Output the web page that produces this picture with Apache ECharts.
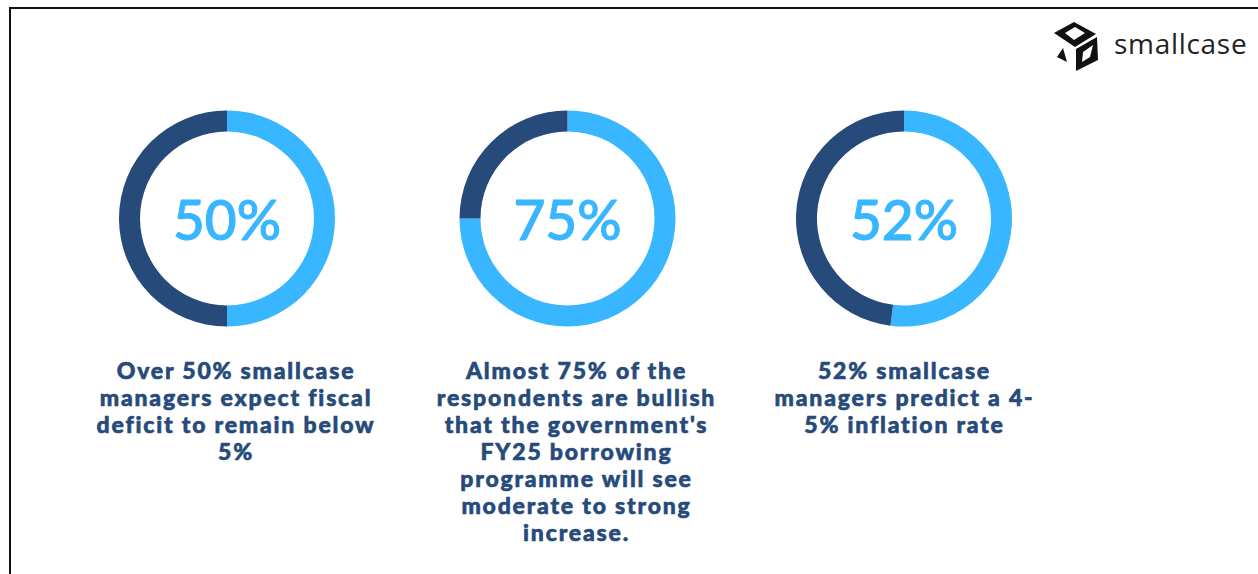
<!DOCTYPE html>
<html>
<head>
<meta charset="utf-8">
<script src="https://cdn.jsdelivr.net/npm/echarts@6/dist/echarts.min.js"></script>
<style>
html,body{margin:0;padding:0;background:#fff;overflow:hidden}
#chart{width:1258px;height:574px}
/* Tracking for the bold captions and the wordmark */
#chart svg text[style*="900"]{letter-spacing:1.8px}
#chart svg text[style*="Open Sans"]{letter-spacing:0.7px}
</style>
</head>
<body>
<div id="chart"></div>
<script>
// Survey shares shown as one ring per question
const shares = [50, 75, 52];
const shareLabels = ['50%', '75%', '52%'];
const ringCentres = [[227, 218.5], [567.5, 218.5], [904, 218.5]];
const captions = [
  'Over 50% smallcase\nmanagers expect fiscal\ndeficit to remain below\n5%',
  "Almost 75% of the\nrespondents are bullish\nthat the government's\nFY25 borrowing\nprogramme will see\nmoderate to strong\nincrease.",
  '52% smallcase\nmanagers predict a 4-\n5% inflation rate'
];
const captionCentres = [236, 576.5, 904.5];
const accent = '#38b6ff';
const navy = '#264a7a';

const chart = echarts.init(document.getElementById('chart'), null, {renderer: 'svg'});

const rings = shares.map((v, i) => ({
  type: 'pie',
  silent: true,
  center: ringCentres[i],
  radius: [87, 108],
  startAngle: 90,
  clockwise: true,
  animation: false,
  avoidLabelOverlap: false,
  labelLine: {show: false},
  label: {show: false},
  data: [
    {
      value: v,
      itemStyle: {color: accent},
      label: {
        show: true,
        position: 'center',
        formatter: shareLabels[i],
        fontFamily: 'Lato',
        fontSize: 55,
        fontWeight: 500,
        color: accent,
        textBorderColor: accent,
        textBorderWidth: 1
      }
    },
    {value: 100 - v, itemStyle: {color: navy}}
  ]
}));

const captionTexts = captions.map((t, i) => ({
  type: 'text',
  style: {
    x: captionCentres[i],
    y: 356,
    text: t,
    align: 'center',
    verticalAlign: 'top',
    font: '900 23px Lato',
    lineHeight: 27,
    fill: navy,
    stroke: navy,
    lineWidth: 0.6
  }
}));

// Outer frame and company mark
const frame = [
  {type: 'rect', shape: {x: 10, y: 8, width: 1260, height: 580}, style: {fill: 'none', stroke: '#111', lineWidth: 2}}
];
const mark = [
  {type: 'polygon', shape: {points: [[1074, 22], [1096, 34], [1075, 47], [1054, 33]]}, style: {fill: '#111'}},
  {type: 'polygon', shape: {points: [[1075, 27], [1085, 33], [1074, 40], [1065, 33]]}, style: {fill: '#fff'}},
  {type: 'polygon', shape: {points: [[1097, 37], [1098, 60], [1076, 71], [1076, 49]]}, style: {fill: '#111'}},
  {type: 'polygon', shape: {points: [[1093, 45], [1090, 57], [1082, 62], [1083, 52]]}, style: {fill: '#fff'}},
  {type: 'polygon', shape: {points: [[1063, 48], [1067, 62], [1057, 57]]}, style: {fill: '#111'}},
  {type: 'text', style: {x: 1114, y: 43, text: 'smallcase', align: 'left', verticalAlign: 'middle', font: '500 28px "Open Sans"', fill: '#222'}}
];

chart.setOption({
  backgroundColor: '#fff',
  animation: false,
  series: rings,
  graphic: {elements: [...frame, ...captionTexts, ...mark]}
});
</script>
</body>
</html>
